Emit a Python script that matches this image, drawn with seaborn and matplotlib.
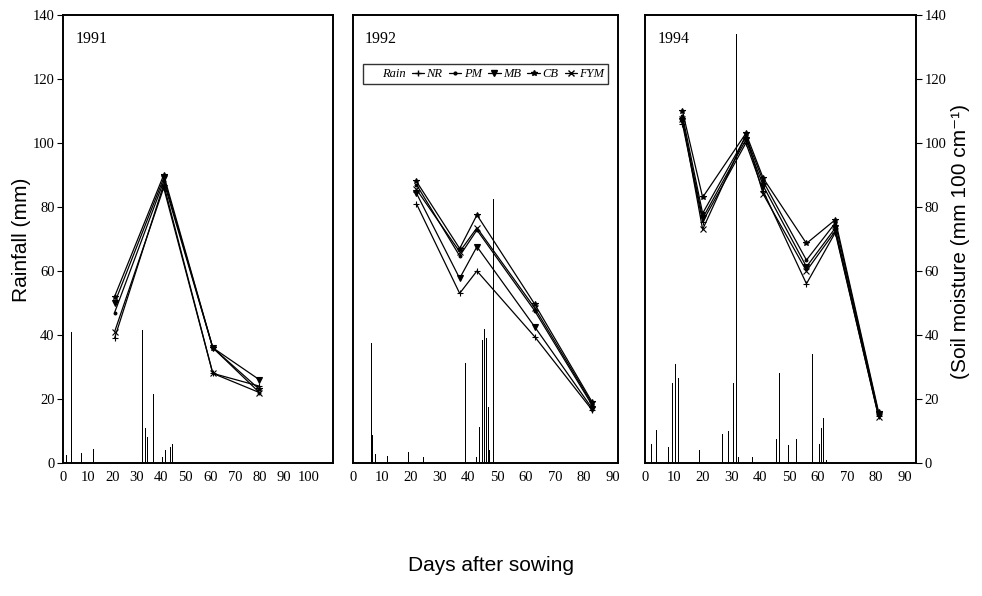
import pandas as pd
import seaborn as sns
import matplotlib.pyplot as plt
from matplotlib.lines import Line2D

treatments = ['NR', 'PM', 'MB', 'CB', 'FYM']
markers = {'NR': '+', 'PM': '.', 'MB': 'v', 'CB': '*', 'FYM': 'x'}

# soil moisture sampling days and values (mm 100 cm-1)
days_1991 = [21, 41, 61, 80]
moist_1991 = {
    'NR': [39, 87, 28, 24],
    'PM': [47, 88, 36, 22],
    'MB': [50, 89, 36, 26],
    'CB': [52, 90, 36, 23],
    'FYM': [41, 86, 28, 22],
}

days_1992 = [22, 37, 43, 63, 83]
moist_1992 = {
    'NR': [81, 53, 60, 39.5, 16.5],
    'PM': [87, 64.7, 72.8, 47.6, 18],
    'MB': [84.3, 57.7, 67.6, 42.6, 17],
    'CB': [88, 67, 77.5, 49.7, 19],
    'FYM': [85.5, 66, 73.5, 48.5, 18.5],
}

days_1994 = [13, 20, 35, 41, 56, 66, 81]
moist_1994 = {
    'NR': [106, 75.4, 100, 85, 56, 72, 14.6],
    'PM': [108.5, 78, 102, 88, 63.4, 75, 15.5],
    'MB': [107, 76.5, 101, 86.6, 61.3, 73.4, 15],
    'CB': [110, 83, 103, 89, 68.6, 76, 16],
    'FYM': [107.5, 73, 102.5, 84, 60, 72.5, 14.5],
}

# daily rainfall events (day, mm)
rain_days_1991 = [1.5, 3.5, 6.5, 7.5, 12.5, 31.8, 32.5, 33.5, 34.5, 36.7,
                  40.4, 41.6, 42.7, 43.7, 44.5]
rain_mm_1991 = [2.5, 41, 3, 3, 4.5, 2, 41.5, 11, 8, 21.5, 2, 4, 4.5, 5, 6]

rain_days_1992 = [6.3, 6.9, 7.7, 11.1, 12, 18.4, 19.3, 24.4, 39, 42.7, 43.9,
                  44.8, 45.5, 46.2, 46.9, 47.5, 48.7]
rain_mm_1992 = [37.6, 8.7, 2.8, 24.4, 2.3, 30.6, 3.5, 2, 31.3, 2, 11.3,
                38.4, 42, 39, 17.6, 4, 82.4]

rain_days_1994 = [2.3, 4.1, 8.3, 9.6, 10.5, 11.6, 18.8, 26, 27, 28.1, 29.1,
                  30.6, 31.8, 32.4, 36.1, 37.2, 45.7, 46.8, 49.7, 52.7, 56.9,
                  58, 60, 60.4, 61.1, 61.8, 63.1]
rain_mm_1994 = [6, 10.3, 5, 25, 31, 26.5, 4, 2, 9, 13, 10, 25, 134, 2, 9, 2,
                7.5, 28, 5.6, 7.5, 6, 34, 6.7, 6, 11, 14, 1]

panels = [
    ('1991', days_1991, moist_1991, rain_days_1991, rain_mm_1991, 110, range(0, 101, 10)),
    ('1992', days_1992, moist_1992, rain_days_1992, rain_mm_1992, 92, range(0, 91, 10)),
    ('1994', days_1994, moist_1994, rain_days_1994, rain_mm_1994, 94, range(0, 91, 10)),
]

sns.set_theme(style="white")
plt.rcParams['font.family'] = ['Liberation Sans', 'DejaVu Sans']
plt.rcParams['text.color'] = 'black'
plt.rcParams['xtick.color'] = 'black'
plt.rcParams['ytick.color'] = 'black'
tick_font = {'family': 'Liberation Serif', 'size': 10.5}

fig = plt.figure(figsize=(9.82, 5.96), dpi=100)
positions = [(0.0642, 0.2232, 0.275, 0.7517),
             (0.3595, 0.2232, 0.270, 0.7517),
             (0.6568, 0.2232, 0.276, 0.7517)]

for i, (year, days, moist, rdays, rmm, xmax, xticks) in enumerate(panels):
    ax = fig.add_axes(positions[i])

    # rainfall bars
    ax.bar(rdays, rmm, width=0.3, color='black', linewidth=0)

    # soil moisture lines, one treatment at a time (mixed marker kinds)
    for t in treatments:
        df = pd.DataFrame({'day': days, 'moisture': moist[t]})
        sns.lineplot(data=df, x='day', y='moisture', color='black', marker=markers[t],
                     markersize=4, markeredgecolor='black', markeredgewidth=0.8,
                     linewidth=0.9, ax=ax)

    ax.set_xlim(0, xmax)
    ax.set_ylim(0, 140)
    ax.set_xticks(list(xticks))
    ax.set_xticklabels([str(x) for x in xticks], fontdict=tick_font)
    ax.tick_params(axis='x', length=0, pad=6)
    ax.set_yticks(range(0, 141, 20))
    ax.set_xlabel('')
    ax.set_ylabel('')

    if i == 0:
        ax.set_yticklabels([str(y) for y in range(0, 141, 20)], fontdict=tick_font)
        ax.tick_params(axis='y', left=True, length=4, width=0.8, direction='out', pad=2)
    elif i == 2:
        ax.yaxis.tick_right()
        ax.set_yticklabels([str(y) for y in range(0, 141, 20)], fontdict=tick_font)
        ax.tick_params(axis='y', right=True, length=4, width=0.8, direction='out', pad=2)
    else:
        ax.set_yticklabels([])
        ax.tick_params(axis='y', length=0)

    for spine in ax.spines.values():
        spine.set_color('black')
        spine.set_linewidth(1.4)

    ax.text(0.045, 0.965, year, transform=ax.transAxes, ha='left', va='top',
            fontdict={'family': 'Liberation Serif', 'size': 11.5})

    if i == 1:
        handles = [Line2D([], [], linestyle='none', marker='none', label='Rain')]
        handles += [Line2D([], [], color='black', lw=0.9, marker=markers[t],
                           markersize=4, label=t) for t in treatments]
        leg = ax.legend(handles=handles, ncol=6, loc='upper center',
                        bbox_to_anchor=(0.5, 0.89), frameon=True, fancybox=False,
                        handlelength=1.0, handletextpad=0.2, columnspacing=0.5,
                        borderpad=0.3, borderaxespad=0,
                        prop={'family': 'Liberation Serif', 'style': 'italic', 'size': 9})
        leg.get_frame().set_edgecolor('black')
        leg.get_frame().set_linewidth(1.0)

fig.text(0.022, 0.597, 'Rainfall (mm)', rotation=90, ha='center', va='center', fontsize=15)
fig.text(0.978, 0.594, '(Soil moisture (mm 100 cm\u207b\u00b9)', rotation=90,
         ha='center', va='center', fontsize=15)
fig.text(0.5, 0.052, 'Days after sowing', ha='center', va='center', fontsize=15)

fig.savefig('out.png', dpi=100)
